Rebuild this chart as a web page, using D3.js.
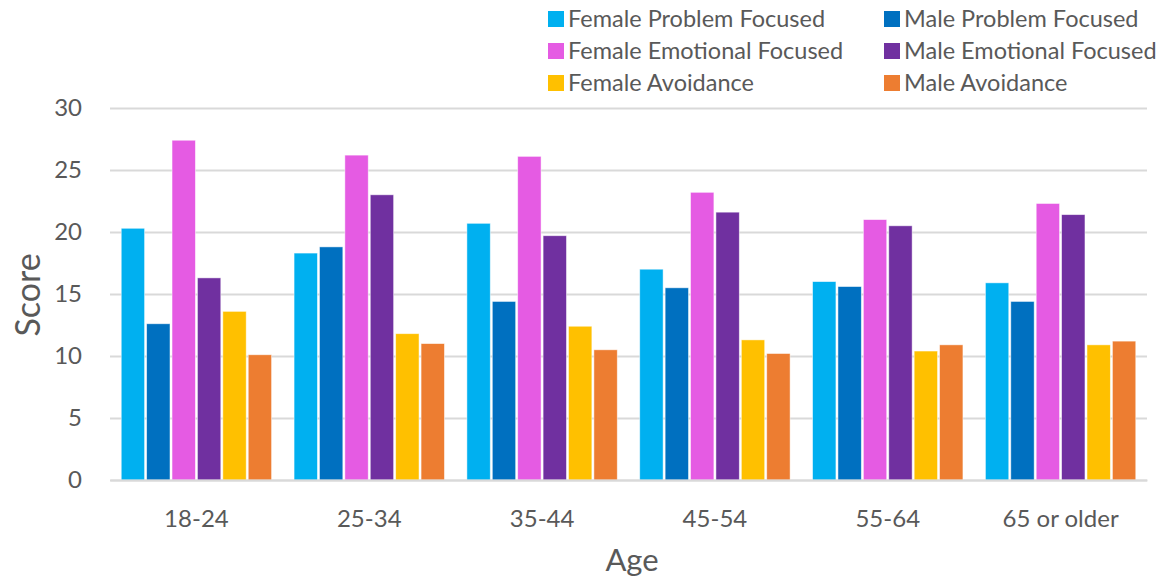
<!DOCTYPE html>
<html>
<head>
<meta charset="utf-8">
<script src="https://cdn.jsdelivr.net/npm/d3@7/dist/d3.min.js"></script>
<style>
  html, body { margin: 0; padding: 0; background: #fff; }
  svg { display: block; }
  svg text { font-family: Lato, "Open Sans", sans-serif; }
</style>
</head>
<body>
<svg id="chart" width="1166" height="582"></svg>
<script>
// Age groups on the x axis
const ages = ["18-24", "25-34", "35-44", "45-54", "55-64", "65 or older"];

// Series names, in drawing order within each age group
const seriesNames = [
  "Female Problem Focused",
  "Male Problem Focused",
  "Female Emotional Focused",
  "Male Emotional Focused",
  "Female Avoidance",
  "Male Avoidance"
];

// Mean coping scores per age group
const femaleProblem   = [20.3, 18.3, 20.7, 17.0, 16.0, 15.9];
const maleProblem     = [12.6, 18.8, 14.4, 15.5, 15.6, 14.4];
const femaleEmotional = [27.4, 26.2, 26.1, 23.2, 21.0, 22.3];
const maleEmotional   = [16.3, 23.0, 19.7, 21.6, 20.5, 21.4];
const femaleAvoidance = [13.6, 11.8, 12.4, 11.3, 10.4, 10.9];
const maleAvoidance   = [10.1, 11.0, 10.5, 10.2, 10.9, 11.2];

const yTicks = [0, 5, 10, 15, 20, 25, 30];

const seriesValues = [femaleProblem, maleProblem, femaleEmotional,
                      maleEmotional, femaleAvoidance, maleAvoidance];
const colors = ["#00b0f0", "#0070c0", "#e55be3", "#7030a0", "#ffc000", "#ed7d31"];

const svg = d3.select("#chart");
const textColor = "#595959";
const fontFamily = 'Lato, "Open Sans", sans-serif';

const x0 = d3.scaleBand().domain(ages).range([110, 1147])
  .paddingInner(0.13).paddingOuter(0.065);
const x1 = d3.scaleBand().domain(seriesNames).range([0, x0.bandwidth()])
  .paddingInner(0.08);
const y = d3.scaleLinear().domain([0, 30]).range([480, 108]);

// Horizontal gridlines and the y tick labels
const yAxis = d3.axisLeft(y).tickValues(yTicks).tickSize(-(1147 - 110)).tickPadding(28);
const gy = svg.append("g").attr("transform", "translate(110,0)").call(yAxis)
  .attr("font-family", fontFamily);
gy.select(".domain").remove();
gy.selectAll(".tick line").attr("stroke", "#d9d9d9").attr("stroke-width", 2);
gy.selectAll(".tick text")
  .attr("fill", textColor)
  .style("font-size", "24px");

// Grouped bars
const groups = svg.append("g").selectAll("g")
  .data(ages)
  .join("g")
  .attr("transform", d => `translate(${x0(d)},0)`);

groups.selectAll("rect")
  .data((age, i) => seriesNames.map((s, k) => ({ s, v: seriesValues[k][i], c: colors[k] })))
  .join("rect")
  .attr("x", d => x1(d.s))
  .attr("width", x1.bandwidth())
  .attr("y", d => y(d.v))
  .attr("height", d => y(0) - y(d.v))
  .attr("fill", d => d.c)
  .attr("stroke", "#ffffff")
  .attr("stroke-opacity", 0.6)
  .attr("stroke-width", 0.8);

// X axis with age labels
const xAxis = d3.axisBottom(x0).tickSize(0).tickPadding(30);
const gx = svg.append("g").attr("transform", "translate(0,480)").call(xAxis)
  .attr("font-family", fontFamily);
gx.select(".domain").attr("stroke", "#d9d9d9").attr("stroke-width", 2);
gx.selectAll(".tick text")
  .attr("fill", textColor)
  .style("font-size", "24px");

// Axis titles
svg.append("text")
  .attr("x", 632).attr("y", 571)
  .attr("text-anchor", "middle")
  .attr("fill", textColor)
  .style("font-size", "31px")
  .text("Age");

svg.append("text")
  .attr("transform", "translate(40,295) rotate(-90)")
  .attr("text-anchor", "middle")
  .attr("fill", textColor)
  .style("font-size", "34px")
  .text("Score");

// Legend: two columns, three rows
const legend = svg.append("g");
const legendItems = legend.selectAll("g")
  .data(seriesNames)
  .join("g")
  .attr("transform", (d, i) => `translate(${i % 2 === 0 ? 548 : 884},${19 + Math.floor(i / 2) * 32})`);

legendItems.append("rect")
  .attr("x", 0).attr("y", -8)
  .attr("width", 16).attr("height", 16)
  .attr("fill", (d, i) => colors[i]);

legendItems.append("text")
  .attr("x", 20).attr("y", 0)
  .attr("dy", "0.35em")
  .attr("fill", textColor)
  .style("font-size", "23.5px")
  .text(d => d);
</script>
</body>
</html>
